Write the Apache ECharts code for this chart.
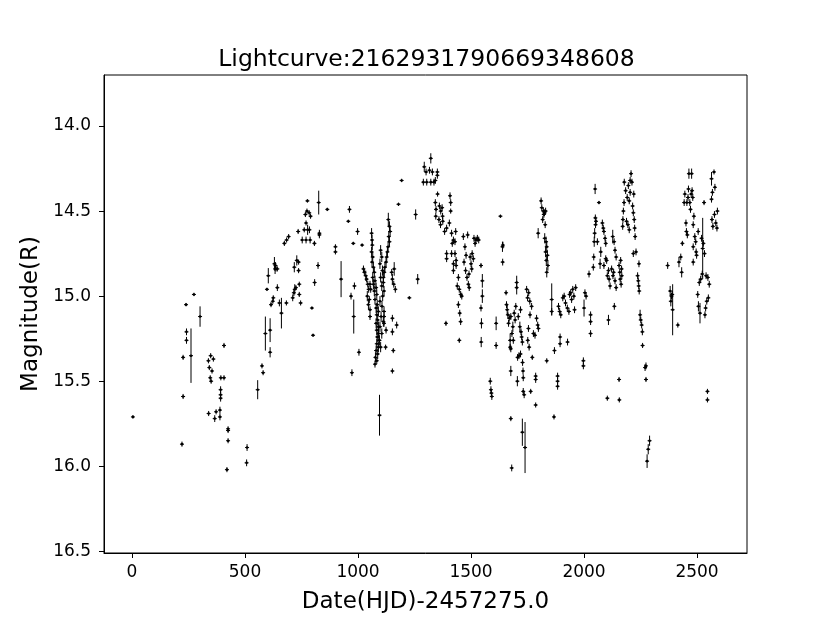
<!DOCTYPE html>
<html>
<head>
<meta charset="utf-8">
<script src="https://cdn.jsdelivr.net/npm/echarts@6/dist/echarts.min.js"></script>
<style>html,body{margin:0;padding:0;background:#fff}#chart{width:830px;height:623px}</style>
</head>
<body>
<div id="chart"></div>
<script>
const titleText = 'Lightcurve:2162931790669348608';
const xLabel = 'Date(HJD)-2457275.0';
const yLabel = 'Magnitude(R)';
const xTicks = [0, 500, 1000, 1500, 2000, 2500];
const yTicks = [14.0, 14.5, 15.0, 15.5, 16.0, 16.5];

// [day, magnitude, error]
const season1 = [
[4,15.71,0.01],[221,15.87,0.015],[226,15.59,0.015],[226,15.36,0.015],[239,15.05,0.01],[241,15.21,0.02],[241,15.26,0.02],
[261,15.35,0.16],[274,14.99,0.01],[301,15.12,0.06],[338,15.38,0.015],[342,15.42,0.015],[346,15.48,0.015],[348,15.35,0.015],
[350,15.50,0.015],[354,15.44,0.015],[360,15.37,0.015],[339,15.69,0.015],[366,15.72,0.02],[372,15.68,0.015],[389,15.67,0.02],
[389,15.71,0.02],[392,15.55,0.02],[392,15.58,0.02],[392,15.60,0.02],[393,15.48,0.015],[407,15.48,0.015],[407,15.29,0.015],
[420,16.02,0.015],[425,15.78,0.015],[425,15.79,0.015],[425,15.85,0.015],[507,15.98,0.02],[509,15.89,0.02],[556,15.55,0.056],
[575,15.41,0.015],[580,15.45,0.015],[590,15.22,0.10],[597,14.96,0.01],[603,14.88,0.045],[611,15.20,0.07],[611,15.33,0.03],
[615,15.05,0.015],[623,15.03,0.015],[625,15.01,0.015],[630,14.81,0.04],[633,14.84,0.03],[635,14.82,0.02],[637,14.84,0.015],
[643,14.84,0.015],[643,14.95,0.02],[652,15.04,0.02],[661,15.10,0.09],[674,14.69,0.015],[683,15.04,0.015],[684,14.67,0.015],
[693,14.65,0.015]
];
const season2 = [
[711,15.01,0.02],[716,14.98,0.02],[720,14.96,0.03],[725,14.95,0.015],[718,14.83,0.03],[729,14.79,0.03],[735,14.62,0.015],
[737,14.80,0.015],[737,14.85,0.015],[740,14.93,0.015],[740,14.99,0.015],[746,15.04,0.015],[753,14.67,0.02],[762,14.61,0.015],
[767,14.52,0.015],[770,14.57,0.015],[770,14.67,0.02],[774,14.50,0.015],[776,14.44,0.01],[777,14.61,0.03],[784,14.51,0.015],
[785,14.61,0.02],[788,14.67,0.02],[790,14.53,0.015],[796,15.07,0.01],[801,15.23,0.01],[807,14.69,0.015],[808,14.92,0.02],
[823,14.82,0.02],[826,14.45,0.07],[829,14.63,0.02],[829,14.64,0.02],[864,14.49,0.01],[900,14.71,0.015],[900,14.74,0.015],
[925,14.90,0.106],[957,14.56,0.01],[962,14.49,0.02],[969,15.00,0.02],[973,15.45,0.02],[979,14.69,0.01],[981,15.12,0.10],
[984,14.94,0.02],[998,14.62,0.02],[1004,15.33,0.02],[1018,14.70,0.01]
];
const season3 = [
[1024,14.84,0.02],[1028,14.86,0.02],[1034,14.88,0.03],[1038,14.90,0.02],[1043,14.93,0.02],[1047,14.96,0.02],[1041,15.00,0.03],
[1050,15.02,0.02],[1046,15.05,0.03],[1053,15.08,0.02],[1056,14.96,0.02],[1053,14.93,0.02],[1053,15.12,0.02],
[1060,14.63,0.03],[1062,14.67,0.03],[1063,14.70,0.03],[1060,14.74,0.03],[1065,14.77,0.03],[1062,14.80,0.03],[1068,14.83,0.03],
[1072,14.86,0.03],[1065,14.89,0.03],[1075,14.91,0.03],[1068,14.93,0.03],[1080,14.95,0.03],[1072,14.97,0.03],[1083,14.99,0.03],
[1075,15.02,0.03],[1085,15.05,0.03],[1080,15.07,0.03],[1090,15.09,0.03],[1083,15.11,0.03],[1087,15.14,0.03],[1080,15.16,0.03],
[1090,15.18,0.03],[1083,15.20,0.03],[1091,15.22,0.03],[1085,15.24,0.03],[1094,15.26,0.03],[1083,15.28,0.03],[1090,15.30,0.03],
[1080,15.32,0.03],[1087,15.34,0.03],[1077,15.36,0.03],[1083,15.38,0.02],[1075,15.40,0.02],
[1100,14.73,0.03],[1105,14.77,0.03],[1097,14.81,0.03],[1108,14.85,0.03],[1100,14.89,0.03],[1112,14.92,0.03],[1105,14.94,0.03],
[1115,14.97,0.03],[1109,15.00,0.03],[1097,15.03,0.03],[1106,15.06,0.03],[1115,15.09,0.03],[1102,15.12,0.03],[1112,15.15,0.03],
[1097,15.18,0.03],[1105,15.22,0.03],[1094,15.26,0.03],[1100,15.30,0.03],
[1134,14.55,0.04],[1139,14.59,0.03],[1142,14.62,0.03],[1136,14.65,0.03],[1139,14.68,0.03],[1133,14.71,0.03],[1130,14.74,0.03],
[1127,14.77,0.03],[1124,14.80,0.03],[1119,14.83,0.03],[1116,14.86,0.03],[1112,14.89,0.03],
[1115,15.12,0.02],[1115,15.16,0.02],[1124,15.20,0.02],[1122,15.30,0.015],[1149,14.86,0.02],[1152,14.90,0.03],[1160,14.84,0.04],
[1158,14.93,0.02],[1165,14.96,0.02],[1152,15.13,0.02],[1152,15.21,0.02],[1171,15.17,0.02],[1156,15.32,0.015],[1152,15.44,0.015],
[1095,15.70,0.12],[1179,14.46,0.01],[1193,14.32,0.01],[1227,15.01,0.01],[1255,14.52,0.03],[1264,14.90,0.03]
];
const season4 = [
[1289,14.33,0.02],[1293,14.24,0.03],[1301,14.27,0.02],[1304,14.33,0.02],[1316,14.26,0.02],[1322,14.19,0.03],[1322,14.33,0.02],
[1329,14.27,0.02],[1336,14.33,0.02],[1342,14.32,0.02],[1351,14.27,0.02],[1351,14.29,0.02],[1352,14.40,0.015],[1342,14.45,0.02],
[1345,14.49,0.02],[1344,14.53,0.02],[1360,14.47,0.02],[1366,14.50,0.02],[1372,14.48,0.02],[1374,14.53,0.02],[1358,14.55,0.02],
[1365,14.58,0.02],[1375,14.56,0.02],[1383,14.62,0.02],[1389,15.16,0.015],[1392,14.60,0.02],[1392,14.75,0.02],[1392,14.78,0.02],
[1404,14.57,0.02],[1407,14.41,0.02],[1410,14.45,0.02],[1410,14.50,0.015],[1414,14.63,0.02],[1414,14.75,0.02],[1417,14.69,0.02],
[1422,14.67,0.02],[1422,14.81,0.02],[1422,14.85,0.02],[1429,14.68,0.02],[1429,14.75,0.02],[1432,14.62,0.02],[1434,14.79,0.02],
[1434,14.82,0.02],[1439,14.94,0.02],[1444,14.89,0.02],[1444,15.05,0.02],[1448,14.96,0.02],[1448,15.26,0.015],[1450,15.10,0.02],
[1454,14.99,0.02],[1454,15.15,0.02],[1459,15.00,0.02],[1466,14.65,0.02],[1469,14.80,0.02],[1473,14.71,0.02],[1476,14.85,0.02],
[1478,14.76,0.02],[1482,14.89,0.02],[1485,14.64,0.02],[1488,14.93,0.02],[1491,14.87,0.02],[1492,14.95,0.02],[1496,14.77,0.02],
[1500,14.81,0.02],[1503,14.84,0.02],[1505,14.75,0.02],[1510,14.78,0.02],[1513,14.66,0.02],[1518,14.69,0.02],[1522,14.67,0.02],
[1528,14.66,0.02],[1534,14.67,0.02],[1544,14.82,0.015],[1550,14.91,0.04],[1550,15.00,0.04],[1544,15.07,0.02],[1546,15.16,0.03],
[1545,15.27,0.03]
];
const season5 = [
[1585,15.50,0.02],[1588,15.55,0.02],[1590,15.57,0.02],[1592,15.59,0.02],[1611,15.16,0.04],[1611,15.29,0.02],[1630,14.53,0.01],
[1639,14.71,0.03],[1641,14.70,0.02],[1640,14.80,0.02],[1655,14.98,0.015],[1657,15.05,0.02],[1660,15.08,0.03],[1663,15.11,0.02],
[1666,15.16,0.02],[1669,15.13,0.02],[1673,15.26,0.04],[1673,15.30,0.02],[1676,15.12,0.02],[1676,15.31,0.02],[1676,15.44,0.03],
[1676,15.72,0.015],[1680,16.01,0.02],[1681,15.22,0.02],[1685,15.18,0.03],[1687,15.26,0.02],[1691,15.10,0.02],[1695,15.14,0.02],
[1698,15.06,0.02],[1702,14.92,0.04],[1702,14.95,0.04],[1705,15.50,0.03],[1706,15.36,0.02],[1709,15.12,0.02],[1712,15.35,0.02],
[1716,15.18,0.03],[1719,15.34,0.02],[1719,15.08,0.02],[1721,15.21,0.02],[1724,15.24,0.02],[1727,15.27,0.02],[1727,15.80,0.08],
[1728,15.39,0.02],[1730,15.44,0.02],[1731,15.48,0.02],[1731,15.56,0.02],[1735,15.58,0.02],[1739,15.89,0.15],[1746,14.96,0.02],
[1750,15.01,0.02],[1751,15.26,0.02],[1754,15.19,0.02],[1755,14.98,0.02],[1757,15.30,0.02],[1760,15.03,0.02],[1761,15.11,0.02],
[1764,15.56,0.015],[1768,15.06,0.02],[1771,15.36,0.015],[1776,15.22,0.02],[1783,15.23,0.02],[1786,15.47,0.02],[1786,15.49,0.02],
[1786,15.64,0.015],[1790,15.13,0.02],[1795,15.17,0.02],[1798,15.19,0.02],[1797,14.63,0.03],[1810,14.44,0.02],[1813,14.48,0.02],
[1817,14.55,0.02],[1820,14.50,0.02],[1822,14.52,0.02],[1825,14.51,0.02],[1830,14.50,0.02],[1828,14.58,0.02],[1826,14.66,0.03],
[1832,14.68,0.03],[1835,14.71,0.03],[1830,14.74,0.03],[1838,14.76,0.03],[1833,14.79,0.03],[1840,14.82,0.03],[1835,14.86,0.03],
[1835,15.38,0.015],[1857,15.09,0.02],[1857,15.02,0.095],[1867,15.71,0.015],[1869,15.32,0.02],[1883,15.47,0.02],[1883,15.50,0.02],
[1883,15.53,0.02],[1887,15.06,0.02],[1892,15.09,0.02],[1894,15.24,0.02],[1894,15.28,0.02],[1897,15.11,0.02],[1906,15.01,0.02],
[1912,15.00,0.02],[1918,15.04,0.02],[1926,15.07,0.02],[1927,15.27,0.02],[1933,15.09,0.02],[1936,14.99,0.02],[1941,14.98,0.02],
[1945,15.02,0.02],[1950,14.96,0.02],[1955,15.00,0.02],[1958,15.08,0.02],[1963,14.95,0.02]
];
const season6 = [
[1997,15.38,0.02],[1997,15.41,0.02],[2000,15.07,0.05],[2004,14.98,0.02],[2009,15.00,0.02],[2022,14.87,0.02],[2029,15.11,0.02],
[2029,15.15,0.02],[2029,15.22,0.02],[2041,14.83,0.02],[2043,14.77,0.02],[2045,14.68,0.03],[2047,14.63,0.03],[2049,14.37,0.03],
[2050,14.54,0.02],[2051,14.58,0.02],[2053,14.56,0.02],[2059,14.68,0.02],[2066,14.45,0.01],[2071,14.81,0.03],[2074,14.74,0.03],
[2081,14.57,0.02],[2085,14.60,0.02],[2088,14.62,0.02],[2088,14.82,0.02],[2093,14.66,0.02],[2096,14.69,0.02],[2096,14.78,0.02],
[2100,14.79,0.02],[2103,14.88,0.02],[2103,15.60,0.015],[2108,14.85,0.02],[2108,15.14,0.03],[2111,14.90,0.02],[2115,14.94,0.02],
[2122,14.84,0.02],[2127,14.65,0.04],[2128,14.88,0.02],[2131,14.86,0.02],[2133,14.68,0.02],[2134,15.06,0.02],[2137,14.73,0.02],
[2137,14.91,0.02],[2142,14.77,0.02],[2142,14.95,0.02],[2155,14.82,0.02],[2155,15.49,0.015],[2156,15.61,0.015],[2158,14.86,0.02],
[2160,14.90,0.02],[2162,14.79,0.02],[2164,14.93,0.02],[2166,14.84,0.02],[2167,14.88,0.02],[2171,14.59,0.02],[2172,14.55,0.02],
[2174,14.50,0.02],[2177,14.45,0.02],[2178,14.33,0.02],[2184,14.38,0.02],[2188,14.56,0.02],[2191,14.42,0.02],[2194,14.58,0.02],
[2196,14.35,0.02],[2200,14.44,0.02],[2200,14.61,0.02],[2204,14.32,0.02],[2204,14.39,0.02],[2208,14.28,0.02],[2212,14.33,0.02],
[2215,14.47,0.02],[2218,14.51,0.02],[2218,14.75,0.02],[2220,14.40,0.02],[2222,14.55,0.02],[2224,14.60,0.02],[2226,14.65,0.02],
[2230,14.74,0.02],[2237,14.88,0.02],[2240,14.91,0.02],[2242,14.94,0.02],[2243,14.81,0.02],[2244,14.97,0.02],[2248,15.11,0.03],
[2251,15.14,0.02],[2255,15.17,0.02],[2258,15.21,0.02],[2259,15.29,0.015],[2270,15.42,0.02],[2274,15.41,0.02],[2274,15.49,0.015],
[2279,15.97,0.04],[2284,15.90,0.03],[2290,15.85,0.03]
];
const season7 = [
[2370,14.82,0.02],[2381,14.97,0.03],[2384,15.03,0.03],[2387,15.00,0.02],[2390,14.99,0.02],[2392,15.08,0.15],[2415,15.17,0.015],
[2420,14.80,0.03],[2428,14.77,0.02],[2432,14.86,0.03],[2435,14.69,0.015],[2443,14.45,0.02],[2446,14.40,0.02],[2451,14.57,0.02],
[2453,14.62,0.02],[2455,14.45,0.02],[2457,14.64,0.02],[2460,14.42,0.02],[2462,14.37,0.02],[2464,14.28,0.03],[2468,14.45,0.02],
[2471,14.49,0.02],[2474,14.40,0.02],[2476,14.28,0.03],[2478,14.38,0.02],[2481,14.42,0.02],[2483,14.58,0.02],[2483,14.71,0.02],
[2483,14.80,0.02],[2486,14.53,0.02],[2490,14.65,0.02],[2494,14.68,0.02],[2496,14.74,0.02],[2498,14.76,0.02],[2503,14.99,0.02],
[2505,14.62,0.02],[2506,15.06,0.03],[2510,14.92,0.02],[2513,15.10,0.06],[2516,14.90,0.02],[2520,14.66,0.02],[2523,14.87,0.02],
[2525,14.72,0.18],[2528,14.69,0.02],[2531,14.45,0.015],[2533,14.75,0.02],[2535,15.11,0.02],[2538,15.07,0.02],[2540,14.88,0.02],
[2543,15.03,0.02],[2546,15.56,0.015],[2546,15.61,0.015],[2548,14.89,0.02],[2550,15.01,0.02],[2554,14.93,0.02],[2564,14.31,0.04],
[2564,14.43,0.02],[2566,14.55,0.02],[2568,14.39,0.02],[2570,14.59,0.02],[2575,14.27,0.015],[2577,14.52,0.02],[2579,14.36,0.02],
[2583,14.57,0.02],[2588,14.60,0.02],[2590,14.50,0.02]
];

const observations = [].concat(season1, season2, season3, season4, season5, season6, season7);
const FONT = 'DejaVu Sans';

const chart = echarts.init(document.getElementById('chart'), null, {renderer: 'canvas'});
chart.setOption({
  animation: false,
  backgroundColor: '#fff',
  title: {
    text: titleText, left: 421.5, top: 43, textAlign: 'center',
    textStyle: {fontFamily: FONT, fontSize: 23.5, fontWeight: 'normal', color: '#000'}
  },
  grid: {left: 104, top: 75, width: 643, height: 478, show: true, borderColor: '#000', borderWidth: 1, backgroundColor: 'transparent'},
  xAxis: {
    type: 'value', min: -124, max: 2721,
    name: xLabel, nameLocation: 'middle', nameGap: 38,
    nameTextStyle: {fontFamily: FONT, fontSize: 23, color: '#000'},
    axisLine: {show: true, onZero: false, lineStyle: {color: '#000', width: 1}},
    axisTick: {show: true, inside: false, length: 5, customValues: xTicks, lineStyle: {color: '#000'}},
    axisLabel: {show: true, customValues: xTicks, margin: 11, fontFamily: FONT, fontSize: 17, color: '#000',
      formatter: v => String(Math.round(v))},
    splitLine: {show: false}
  },
  yAxis: {
    type: 'value', inverse: true, min: 13.70, max: 16.51,
    name: yLabel, nameLocation: 'middle', nameGap: 61, nameRotate: 90,
    nameTextStyle: {fontFamily: FONT, fontSize: 23, color: '#000'},
    axisLine: {show: true, onZero: false, lineStyle: {color: '#000', width: 1}},
    axisTick: {show: true, inside: false, length: 5, customValues: yTicks, lineStyle: {color: '#000'}},
    axisLabel: {show: true, customValues: yTicks, margin: 13, fontFamily: FONT, fontSize: 17, color: '#000',
      formatter: v => Number(v).toFixed(1)},
    splitLine: {show: false}
  },
  series: [{
    type: 'custom',
    data: observations,
    clip: true,
    renderItem: function (params, api) {
      const x = api.value(0), y = api.value(1), e = api.value(2);
      const p = api.coord([x, y]);
      const lo = api.coord([x, y - e]);
      const hi = api.coord([x, y + e]);
      return {
        type: 'group',
        children: [
          {type: 'line', shape: {x1: p[0], y1: lo[1], x2: p[0], y2: hi[1]}, style: {stroke: '#000', lineWidth: 1}},
          {type: 'line', shape: {x1: p[0] - 2, y1: p[1], x2: p[0] + 2, y2: p[1]}, style: {stroke: '#000', lineWidth: 1}},
          {type: 'circle', shape: {cx: p[0], cy: p[1], r: 1.3}, style: {fill: '#000'}}
        ]
      };
    }
  }]
});
</script>
</body>
</html>
